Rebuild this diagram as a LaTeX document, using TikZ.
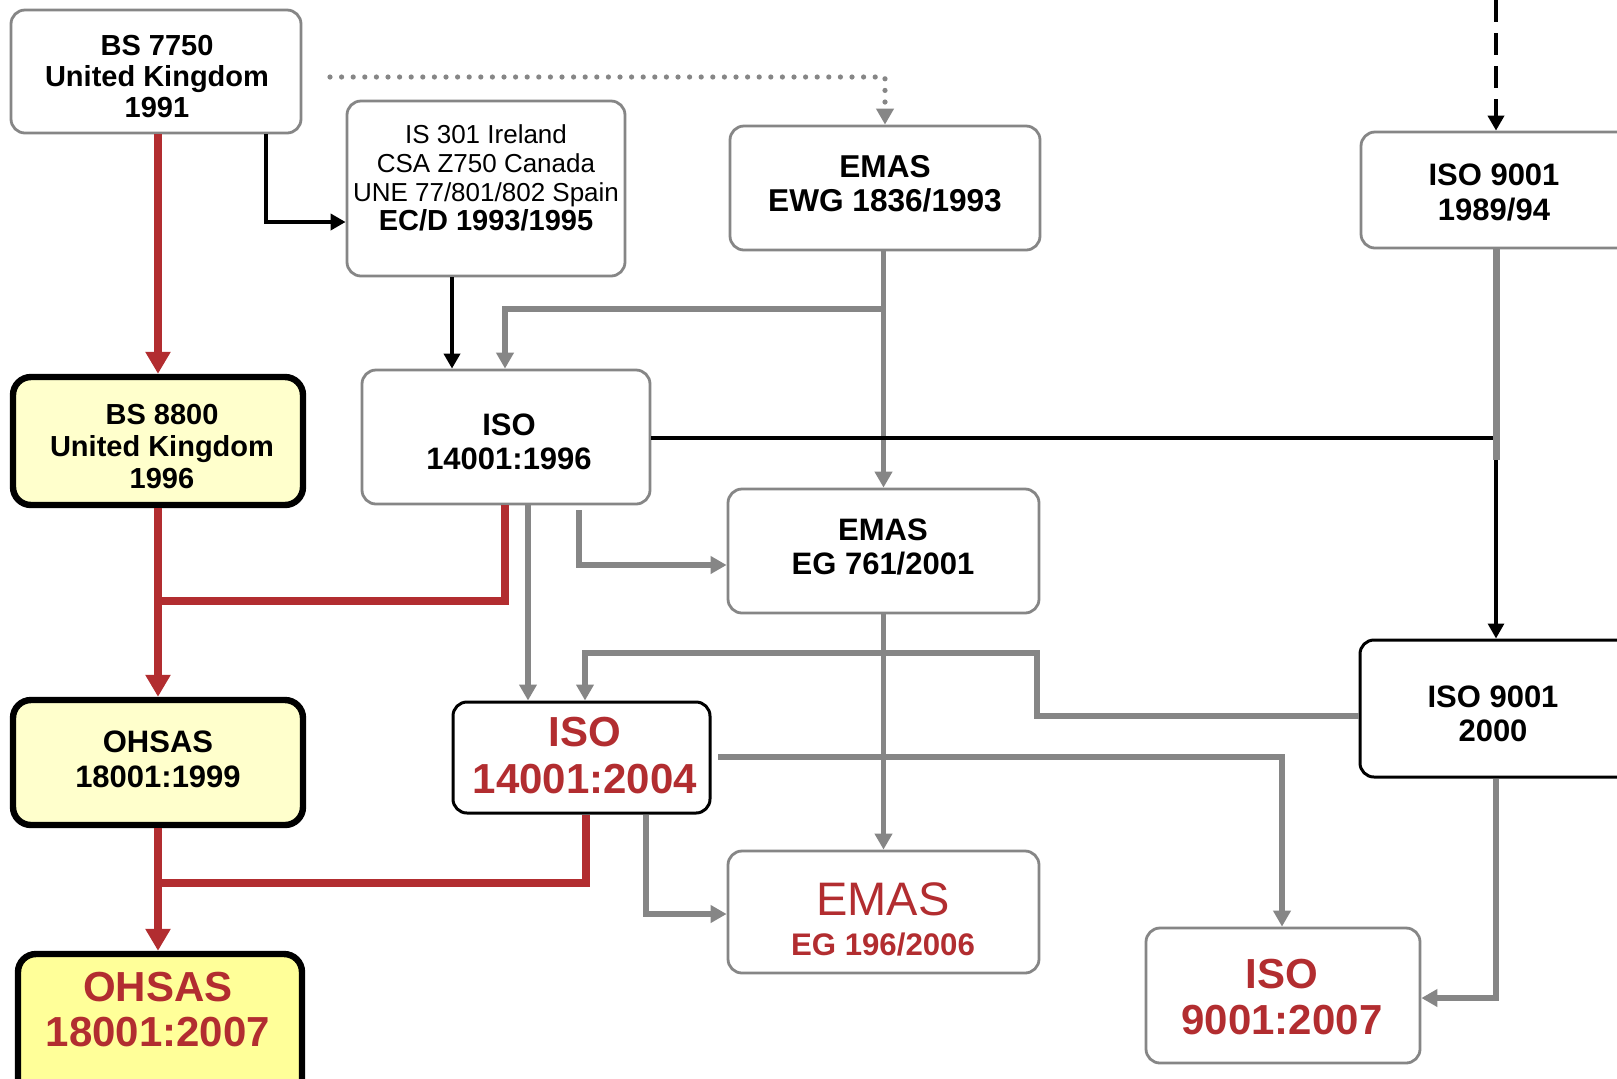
\documentclass[tikz,border=0pt]{standalone}
\usepackage{fontspec}
\setmainfont{Liberation Sans}
\usetikzlibrary{arrows.meta}
\definecolor{lgray}{HTML}{868686}
\definecolor{dred}{HTML}{B22D30}
\definecolor{ylight}{HTML}{FFFFCC}
\definecolor{ybright}{HTML}{FFFF99}
\begin{document}
\begin{tikzpicture}[x=0.5pt,y=-0.5pt,
  box/.style={draw=lgray, line width=1.4pt, rounded corners=7pt, fill=white, inner sep=0pt},
  blkbox/.style={draw=black, line width=1.5pt, rounded corners=7pt, fill=white, inner sep=0pt},
  ybox/.style={draw=black, line width=3.2pt, rounded corners=9pt, inner sep=0pt},
  txt/.style={align=center, inner sep=0pt, font=\bfseries\fontsize{15.5}{17}\selectfont},
  txtsm/.style={align=center, inner sep=0pt, font=\bfseries\fontsize{14.5}{15.7}\selectfont},
  txtbig/.style={align=center, inner sep=0pt, text=dred, font=\bfseries\fontsize{21}{23}\selectfont},
  gline/.style={draw=lgray, line width=2.7pt},
  garr/.style={gline, -{Triangle[length=8pt,width=8.5pt]}},
  rline/.style={draw=dred, line width=3.7pt},
  rarr/.style={rline, -{Triangle[length=11pt,width=12pt]}},
  bline/.style={draw=black, line width=2pt},
  barr/.style={bline, -{Triangle[length=7.5pt,width=8pt]}}
]
\useasboundingbox (0,0) rectangle (1617,1078);
\clip (0,0) rectangle (1617,1078);
\fill[white] (0,0) rectangle (1617,1078);

% ---------- boxes ----------
\node[box, minimum width=145pt, minimum height=61.5pt] (bs7750) at (156,71.5) {};
\node[box, minimum width=139pt, minimum height=87.5pt] (is301) at (486,188.5) {};
\node[box, minimum width=155pt, minimum height=62pt] (emas93) at (885,188) {};
\node[box, minimum width=135pt, minimum height=58pt] (iso9001a) at (1496,190) {};
\node[ybox, fill=ylight, minimum width=145pt, minimum height=64pt] (bs8800) at (158,441) {};
\node[box, minimum width=144pt, minimum height=67pt] (iso96) at (506,437) {};
\node[box, minimum width=155.5pt, minimum height=62pt] (emas01) at (883.5,551) {};
\node[ybox, fill=ylight, minimum width=145pt, minimum height=62.5pt] (ohsas99) at (158,762.5) {};
\node[blkbox, minimum width=128.5pt, minimum height=55.5pt] (iso04) at (581.5,757.5) {};
\node[blkbox, minimum width=136pt, minimum height=68.5pt] (iso9001b) at (1496,708.5) {};
\node[box, minimum width=155.5pt, minimum height=61pt] (emas06) at (883.5,912) {};
\node[box, minimum width=137pt, minimum height=67.5pt] (iso07) at (1283,995.5) {};
\node[ybox, fill=ybright, minimum width=142pt, minimum height=72pt] (ohsas07) at (160,1026) {};

% ---------- helper coordinates ----------
\coordinate (k266) at (266,222);
\coordinate (k452) at (452,0);
\coordinate (k505a) at (505,309);
\coordinate (k885) at (885,309);
\coordinate (k505b) at (505,601);
\coordinate (k158a) at (158,601);
\coordinate (k528) at (528,0);
\coordinate (k579a) at (579,510);
\coordinate (k579b) at (579,565);
\coordinate (k1037a) at (1037,716);
\coordinate (k1037b) at (1037,653);
\coordinate (k585) at (585,653);
\coordinate (k718) at (718,757);
\coordinate (k1282) at (1282,757);
\coordinate (k1496a) at (1496,460);
\coordinate (k1496b) at (1496,438);
\coordinate (k1496c) at (1496,998);
\coordinate (k586a) at (586,0);
\coordinate (k586b) at (586,883);
\coordinate (k158b) at (158,883);
\coordinate (k646a) at (646,0);
\coordinate (k646b) at (646,914);
\coordinate (dstart) at (330,77);
\coordinate (dcorner) at (885,77);
\coordinate (dtop) at (1496,0);

% ---------- connectors ----------
% dotted grey from BS 7750 to EMAS
\draw[lgray, line width=2.6pt, line cap=round, dash pattern=on 0pt off 5.8pt,
      -{Triangle[length=8pt,width=8.5pt,line cap=butt]}] (dstart) -- (dcorner) -- (emas93.north);
% dashed black into ISO 9001 1989/94
\draw[bline, line width=2.4pt, dash pattern=on 11pt off 5.5pt,
      -{Triangle[length=7.5pt,width=8pt]}] (dtop) -- (iso9001a.north);

% BS 7750 -> IS 301
\draw[barr] (k266 |- bs7750.south) -- (k266) -- (k266 -| is301.west);
% IS 301 -> ISO 14001:1996
\draw[barr] (k452 |- is301.south) -- (k452 |- iso96.north);
% EMAS 1993 -> EMAS 2001, branch to ISO 14001:1996
\draw[garr] (emas01.north |- emas93.south) -- (emas01.north);
\draw[garr] (k885) -- (k505a) -- (k505a |- iso96.north);
% ISO 14001:1996 -- ISO 9001 line
\draw[bline] (iso96.east |- k1496b) -- (k1496b);
\draw[bline, line width=1.6pt, -{Triangle[length=7.5pt,width=8pt]}] (k1496b) -- (iso9001b.north);
\draw[lgray, line width=3.5pt] (iso9001a.south) -- (k1496a);
% ISO 14001:1996 -> ISO 14001:2004
\draw[garr] (k528 |- iso96.south) -- (k528 |- iso04.north);
% ISO 14001:1996 -> EMAS 2001
\draw[garr] (k579a) -- (k579b) -- (k579b -| emas01.west);
% ISO 9001 2000 -> ISO 14001:2004
\draw[garr] (k1037a -| iso9001b.west) -- (k1037a) -- (k1037b) -- (k585) -- (k585 |- iso04.north);
% EMAS 2001 -> EMAS 2006
\draw[garr] (emas01.south) -- (emas06.north);
% ISO 14001:2004 -> ISO 9001:2007
\draw[garr] (k718) -- (k1282) -- (k1282 |- iso07.north);
% ISO 9001 2000 -> ISO 9001:2007
\draw[garr] (iso9001b.south) -- (k1496c) -- (k1496c -| iso07.east);
% ISO 14001:2004 -> EMAS 2006
\draw[garr] (k646a |- iso04.south) -- (k646b) -- (k646b -| emas06.west);

% red chain
\draw[rarr] (bs8800.north |- bs7750.south) -- (bs8800.north);
\draw[rarr] (bs8800.south) -- (ohsas99.north);
\draw[rline] (k505b |- iso96.south) -- (k505b) -- (k158a);
\draw[rarr] (ohsas99.south) -- (ohsas99.south |- ohsas07.north);
\draw[rline] (k586a |- iso04.south) -- (k586b) -- (k158b);

% ---------- texts ----------
\node[txtsm] (t-bs7750) at (157,76.5) {BS 7750\\United Kingdom\\1991};
\node[align=center, inner sep=0pt, font=\fontsize{13}{14.5}\selectfont] (t-is301) at (486,178)
  {IS 301 Ireland\\CSA Z750 Canada\\UNE 77/801/802 Spain\\{\bfseries\fontsize{14.5}{14.5}\selectfont EC/D 1993/1995}};
\node[txt, font=\bfseries\fontsize{15.8}{17}\selectfont] (t-emas93) at (885,184) {EMAS\\EWG 1836/1993};
\node[txt, font=\bfseries\fontsize{15.5}{17.5}\selectfont] (t-iso9001a) at (1494,192.5) {ISO 9001\\1989/94};
\node[txtsm, font=\bfseries\fontsize{14.5}{16}\selectfont] (t-bs8800) at (162,447) {BS 8800\\United Kingdom\\1996};
\node[txt] (t-iso96) at (509,442) {ISO\\14001:1996};
\node[txt] (t-emas01) at (883,547) {EMAS\\EG 761/2001};
\node[txt, font=\bfseries\fontsize{15.5}{17.5}\selectfont] (t-ohsas99) at (158,759.5) {OHSAS\\18001:1999};
\node[txtbig, font=\bfseries\fontsize{21}{23.5}\selectfont] (t-iso04) at (585,755.5) {ISO\\14001:2004};
\node[txt] (t-iso9001b) at (1493,714) {ISO 9001\\2000};
\node[inner sep=0pt, text=dred, font=\fontsize{23.5}{24}\selectfont] (t-emas06a) at (883,899) {EMAS};
\node[inner sep=0pt, text=dred, font=\bfseries\fontsize{15.6}{16}\selectfont] (t-emas06b) at (883,944) {EG 196/2006};
\node[txtbig] (t-iso07) at (1282,997) {ISO\\9001:2007};
\node[txtbig, font=\bfseries\fontsize{21}{22.5}\selectfont] (t-ohsas07) at (158,1009.5) {OHSAS\\18001:2007};
\end{tikzpicture}
\end{document}
